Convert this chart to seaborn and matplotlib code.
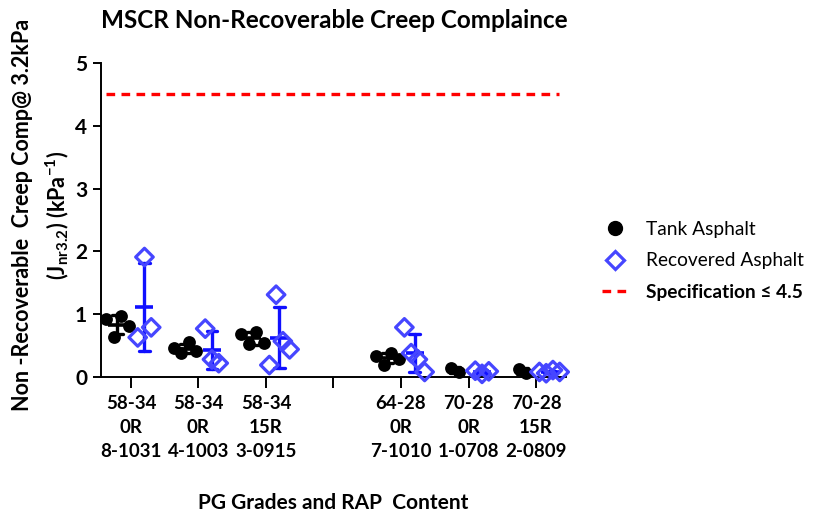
import matplotlib
matplotlib.use("Agg")
import matplotlib.pyplot as plt
import numpy as np
import pandas as pd
import seaborn as sns
from matplotlib.lines import Line2D

# PG grade / RAP content / sample id; slot 3 stays empty to separate the two blocks
groups = ["58-34\n0R\n8-1031", "58-34\n0R\n4-1003", "58-34\n15R\n3-0915",
          "64-28\n0R\n7-1010", "70-28\n0R\n1-0708", "70-28\n15R\n2-0809"]
group_slots = [0, 1, 2, 4, 5, 6]

# Jnr3.2 (1/kPa) replicates, in plotting order
tank_jnr = [
    [0.92, 0.64, 0.97, 0.81],
    [0.46, 0.38, 0.55, 0.41],
    [0.68, 0.52, 0.72, 0.54],
    [0.34, 0.19, 0.38, 0.29],
    [0.14, 0.08],
    [0.13, 0.06],
]
recovered_jnr = [
    [0.63, 1.91, 0.79],
    [0.77, 0.28, 0.22],
    [0.19, 1.31, 0.57, 0.44],
    [0.79, 0.38, 0.28, 0.08],
    [0.10, 0.05, 0.09],
    [0.08, 0.06, 0.11, 0.08],
]
spec_limit = 4.5

series = ["Tank Asphalt", "Recovered Asphalt"]


def scatter_positions(slot, side, n, step):
    """Spread n replicate markers side by side within one half of a column."""
    return slot + side * 0.2 + (np.arange(n) - (n - 1) / 2) * step


rows = []
for slot, vals in zip(group_slots, tank_jnr):
    xs = scatter_positions(slot, -1, len(vals), 0.11)
    rows += [(slot, x, series[0], v) for x, v in zip(xs, vals)]
for slot, vals in zip(group_slots, recovered_jnr):
    xs = scatter_positions(slot, +1, len(vals), 0.10)
    rows += [(slot, x, series[1], v) for x, v in zip(xs, vals)]
df = pd.DataFrame(rows, columns=["slot", "xpos", "asphalt", "jnr"])

sns.set_theme(style="ticks")
plt.rcParams["font.family"] = ["Lato", "DejaVu Sans"]
plt.rcParams["mathtext.fontset"] = "custom"
plt.rcParams["mathtext.rm"] = "Lato:bold"
plt.rcParams["mathtext.it"] = "Lato:bold"
plt.rcParams["mathtext.bf"] = "Lato:bold"
for key in ["text.color", "axes.labelcolor", "xtick.color", "ytick.color", "axes.edgecolor"]:
    plt.rcParams[key] = "black"

fig = plt.figure(figsize=(8.17, 5.16), dpi=100)
ax = fig.add_axes([0.1236, 0.2694, 0.5692, 0.6086])

blue_edge = "#4646ff"
blue_bar = "#1010ff"

# mean +/- SD for each column
sns.pointplot(data=df, x="slot", y="jnr", hue="asphalt", hue_order=series,
              native_scale=True, dodge=0.4, errorbar="sd", capsize=0.15,
              linestyle="none", marker="_", markersize=12.5, markeredgewidth=2.6,
              palette={series[0]: "black", series[1]: blue_bar},
              err_kws={"linewidth": 2.4}, legend=False, ax=ax)

# individual replicates
sns.scatterplot(data=df[df.asphalt == series[0]], x="xpos", y="jnr", color="black",
                s=85, linewidth=0, ax=ax, legend=False, zorder=4, clip_on=False)
sns.scatterplot(data=df[df.asphalt == series[1]], x="xpos", y="jnr", marker="D",
                s=80, ax=ax, legend=False, zorder=5, clip_on=False)
recovered_pts = ax.collections[-1]
recovered_pts.set_facecolor("none")
recovered_pts.set_edgecolor(blue_edge)
recovered_pts.set_linewidth(2.3)

# specification limit
ax.hlines(spec_limit, -0.37, 6.34, colors="#ff0000", linestyles=(0, (2.6, 1.9)),
          linewidth=2.4, zorder=1)

ax.set_xlim(-0.444, 6.444)
ax.set_ylim(0, 5)
ax.set_yticks([0, 1, 2, 3, 4, 5])
ax.set_xticks(range(7))
tick_labels = [""] * 7
for slot, g in zip(group_slots, groups):
    tick_labels[slot] = g
ax.set_xticklabels(tick_labels)
sns.despine(ax=ax)
for sp in ["left", "bottom"]:
    ax.spines[sp].set_linewidth(1.4)
ax.tick_params(axis="both", direction="out", width=1.4)
ax.tick_params(axis="x", length=8, pad=5)
ax.tick_params(axis="y", length=6, pad=4)
for lab in ax.get_yticklabels():
    lab.set_fontsize(15)
    lab.set_fontweight("bold")
for lab in ax.get_xticklabels():
    lab.set_fontsize(13.5)
    lab.set_fontweight("bold")
    lab.set_linespacing(1.5)

ax.set_xlabel("PG Grades and RAP  Content", fontsize=15, fontweight="bold", labelpad=24)
ax.set_ylabel("Non -Recoverable  Creep Comp@ 3.2kPa\n"
              r"(J$_{\mathrm{nr3.2}}$) (kPa$^{\mathrm{-1}}$)",
              fontsize=15.5, fontweight="bold", labelpad=3, linespacing=1.45)
ax.yaxis.label.set_y(0.515)
ax.set_title("MSCR Non-Recoverable Creep Complaince", fontsize=17.5, fontweight="bold",
             loc="left", x=0.0, y=1.085)

handles = [
    Line2D([], [], marker="o", linestyle="none", color="black", markersize=10),
    Line2D([], [], marker="D", linestyle="none", markerfacecolor="none",
           markeredgecolor=blue_edge, markeredgewidth=2.3, markersize=9),
    Line2D([], [], color="#ff0000", linestyle=(0, (2.6, 1.9)), linewidth=2.4),
]
leg = fig.legend(handles, ["Tank Asphalt", "Recovered Asphalt", "Specification \u2264 4.5"],
                 loc="upper left", bbox_to_anchor=(0.716, 0.605), frameon=False,
                 fontsize=13.8, handlelength=1.3, handletextpad=1.0, labelspacing=0.75)
leg.get_texts()[2].set_fontweight("bold")

fig.savefig("out.png", dpi=100)
